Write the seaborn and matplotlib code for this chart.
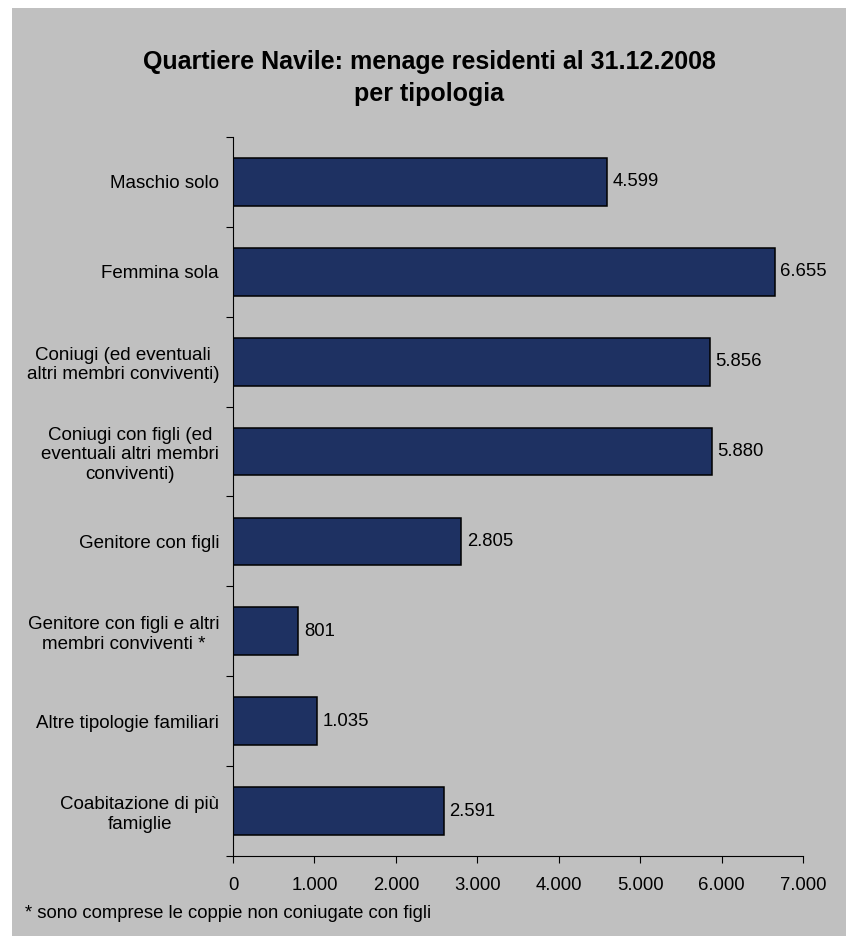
import pandas as pd
import seaborn as sns
import matplotlib.pyplot as plt
from matplotlib.ticker import FuncFormatter, FixedLocator

# Data
categories = ["Maschio solo",
              "Femmina sola",
              "Coniugi (ed eventuali\naltri membri conviventi)",
              "Coniugi con figli (ed\neventuali altri membri\nconviventi)",
              "Genitore con figli",
              "Genitore con figli e altri\nmembri conviventi *",
              "Altre tipologie familiari",
              "Coabitazione di più\nfamiglie"]
values = [4599, 6655, 5856, 5880, 2805, 801, 1035, 2591]
x_ticks = [0, 1000, 2000, 3000, 4000, 5000, 6000, 7000]

df = pd.DataFrame({'tipologia': categories, 'menage': values})

def it_fmt(v):
    return f'{int(v):,}'.replace(',', '.')

sns.set_style('white')
plt.rcParams['font.family'] = ['Liberation Sans', 'DejaVu Sans']
plt.rcParams['text.color'] = 'black'
plt.rcParams['xtick.color'] = 'black'
plt.rcParams['ytick.color'] = 'black'

bg = '#C0C0C0'
fig = plt.figure(figsize=(8.46, 9.36), dpi=100, facecolor='white')
# gray chart area, white strip on left and top
fig.patches.append(plt.Rectangle((12/846, 0), 1, 1 - 8/936, transform=fig.transFigure,
                                 facecolor=bg, edgecolor='none', zorder=-1))
ax = fig.add_axes([233/846, 1-856/936, 570/846, 719/936])
ax.set_facecolor(bg)

sns.barplot(data=df, x='menage', y='tipologia', orient='h', color='#1E3162',
            edgecolor='black', linewidth=1.1, width=0.53, saturation=1, ax=ax)

for i, v in enumerate(values):
    ax.annotate(it_fmt(v), (v, i), xytext=(4, 0), textcoords='offset points',
                va='center', ha='left', fontsize=13.3)

ax.set_xlim(0, 7000)
ax.set_ylim(len(categories) - 0.5, -0.5)
ax.set_xticks(x_ticks)
ax.xaxis.set_major_formatter(FuncFormatter(lambda v, p: it_fmt(v)))
ax.yaxis.set_minor_locator(FixedLocator([i - 0.5 for i in range(len(categories) + 1)]))
ax.tick_params(axis='y', which='major', length=0, pad=10, labelsize=13.5)
ax.tick_params(axis='y', which='minor', length=5, width=0.8, left=True)
ax.tick_params(axis='x', which='major', length=5, width=0.8, bottom=True, pad=10, labelsize=13.3)
for lab in ax.get_yticklabels():
    lab.set_multialignment('center')

ax.set_xlabel('')
ax.set_ylabel('')
for s in ['top', 'right']:
    ax.spines[s].set_visible(False)
for s in ['left', 'bottom']:
    ax.spines[s].set_color('black')
    ax.spines[s].set_linewidth(0.8)

fig.text(429/846, 1-78/936, 'Quartiere Navile: menage residenti al 31.12.2008\nper tipologia',
         ha='center', va='center', fontsize=18, fontweight='bold', linespacing=1.4)
fig.text(25/846, 1-913/936, '* sono comprese le coppie non coniugate con figli',
         ha='left', va='center', fontsize=13.3)

plt.savefig('out.png', dpi=100, facecolor='white')
